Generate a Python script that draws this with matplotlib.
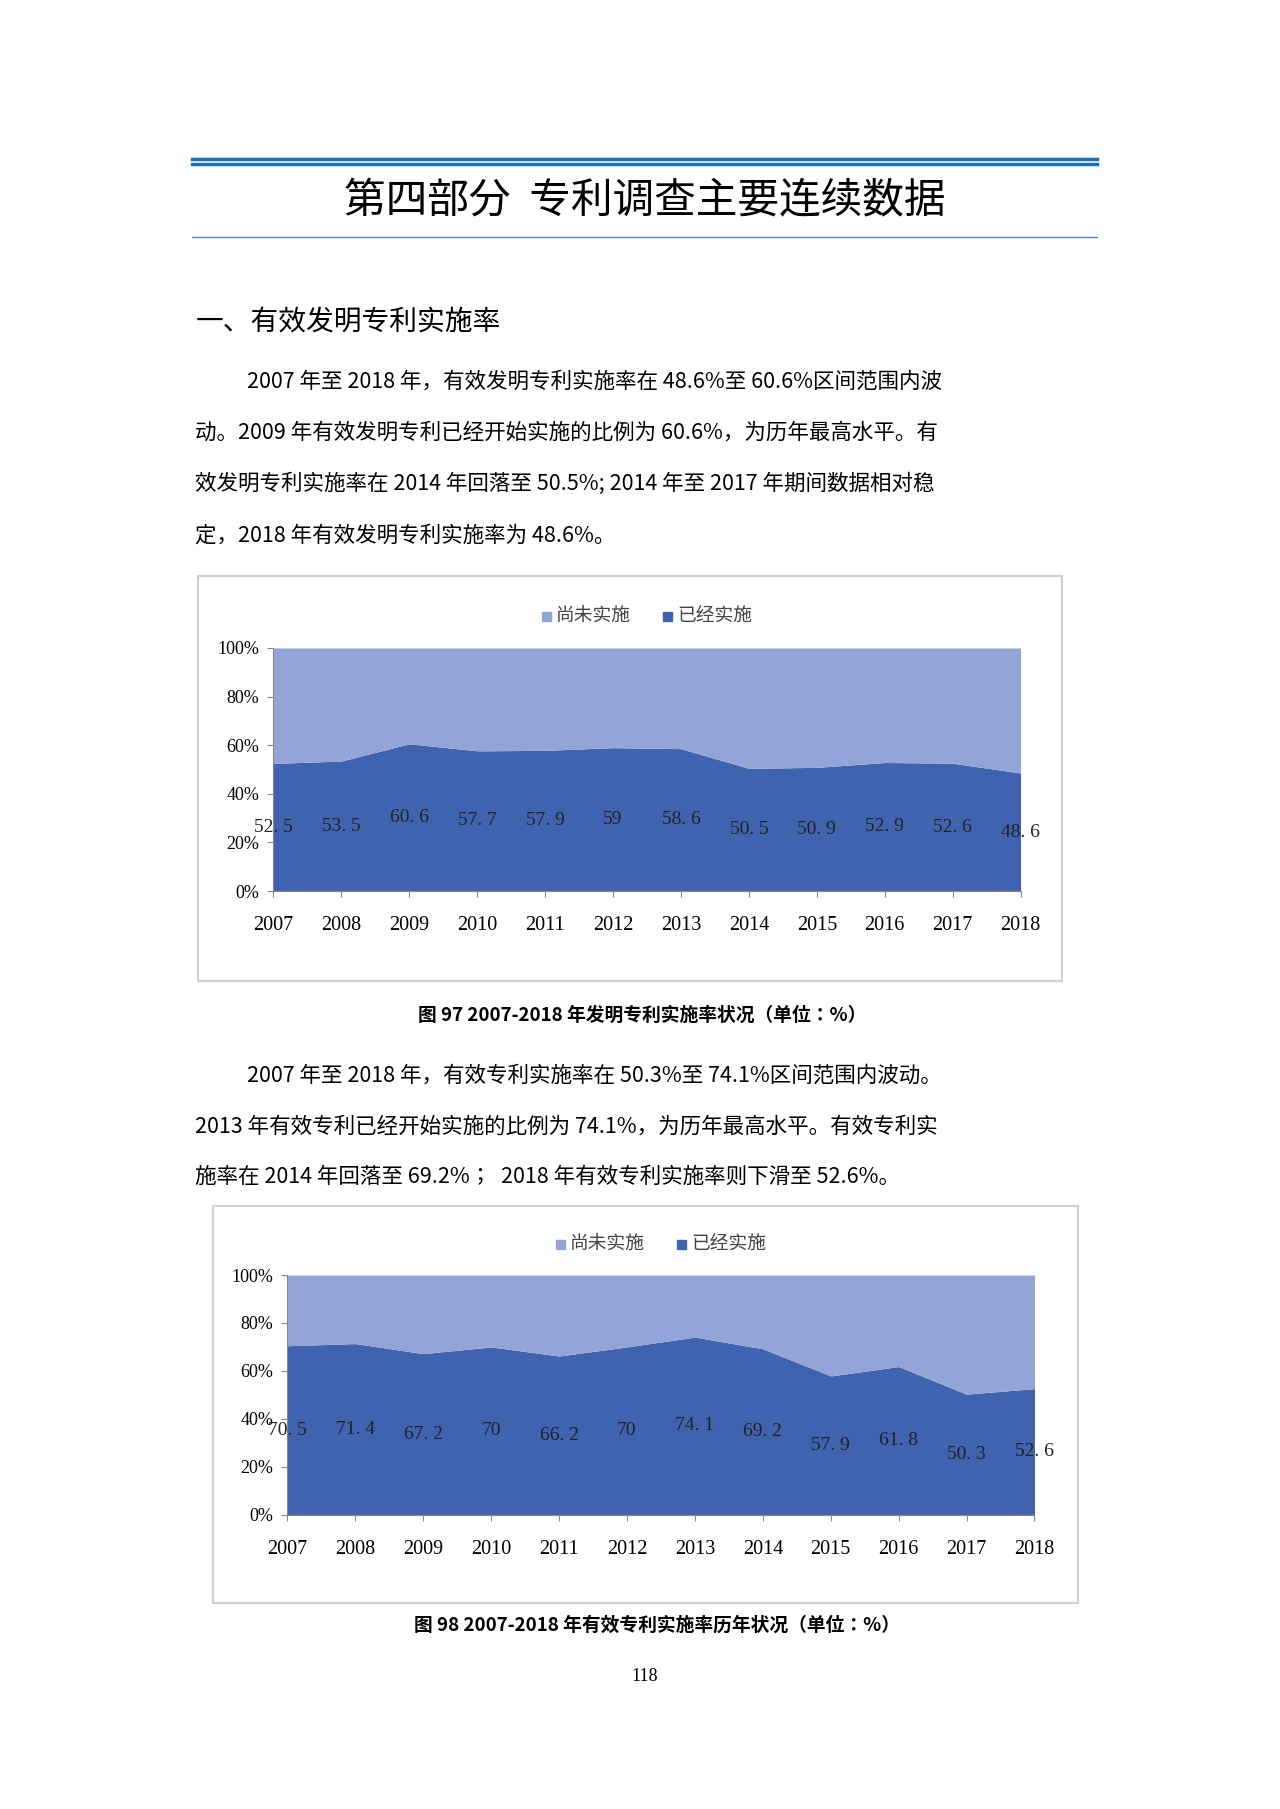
import matplotlib.pyplot as plt
from matplotlib.patches import Rectangle
from matplotlib import font_manager
import numpy as np

years = ["2007", "2008", "2009", "2010", "2011", "2012", "2013", "2014", "2015", "2016", "2017", "2018"]
invention_rate = [52.5, 53.5, 60.6, 57.7, 57.9, 59, 58.6, 50.5, 50.9, 52.9, 52.6, 48.6]
patent_rate = [70.5, 71.4, 67.2, 70, 66.2, 70, 74.1, 69.2, 57.9, 61.8, 50.3, 52.6]

# pick whichever CJK family is actually registered
available = {f.name for f in font_manager.fontManager.ttflist}
CJK = [n for n in ["Noto Sans CJK SC", "Noto Sans CJK JP", "Noto Sans CJK TC",
                   "Noto Sans CJK KR", "Noto Sans SC", "Noto Sans CJK"] if n in available]
CJK = CJK + ["DejaVu Sans"]
SERIF = "Liberation Serif"
LIGHT = "#92A5D6"
DARK = "#3F63AE"

W, H = 1100.0, 1555.0   # coordinates
fig = plt.figure(figsize=(12.8, 18.09), dpi=100)


def fx(x):
    return x / W


def fy(y):
    return 1 - y / H


def text(x, y, s, size, **kw):
    kw.setdefault("family", CJK)
    kw.setdefault("va", "center")
    fig.text(fx(x), fy(y), s, fontsize=size, **kw)


def hline(x0, x1, y, lw, color):
    fig.add_artist(plt.Line2D([fx(x0), fx(x1)], [fy(y), fy(y)], lw=lw, color=color))


# header
hline(165, 943, 137, 2.5, "#1F6EB5")
hline(165, 943, 141, 2.5, "#1F6EB5")
text(554, 173, "第四部分  专利调查主要连续数据", 30, ha="center")
hline(165, 943, 204, 0.9, "#4A7FBF")
text(168, 277, "一、有效发明专利实施率", 20, ha="left")

para1 = [
    "2007 年至 2018 年，有效发明专利实施率在 48.6%至 60.6%区间范围内波",
    "动。2009 年有效发明专利已经开始实施的比例为 60.6%，为历年最高水平。有",
    "效发明专利实施率在 2014 年回落至 50.5%; 2014 年至 2017 年期间数据相对稳",
    "定，2018 年有效发明专利实施率为 48.6%。",
]
for i, line in enumerate(para1):
    text(212 if i == 0 else 168, 328 + 44 * i, line, 15.5, ha="left")

para2 = [
    "2007 年至 2018 年，有效专利实施率在 50.3%至 74.1%区间范围内波动。",
    "2013 年有效专利已经开始实施的比例为 74.1%，为历年最高水平。有效专利实",
    "施率在 2014 年回落至 69.2%；  2018 年有效专利实施率则下滑至 52.6%。",
]
for i, line in enumerate(para2):
    text(212 if i == 0 else 168, 925 + 43.5 * i, line, 15.5, ha="left")


def chart(box, plot, legend_y, values, caption, cap_y):
    bx0, by0, bx1, by1 = box
    fig.add_artist(Rectangle((fx(bx0), fy(by1)), fx(bx1 - bx0), (by1 - by0) / H,
                             fill=False, ec="#D0D0D0", lw=1.5))
    px0, py0, px1, py1 = plot
    ax = fig.add_axes([fx(px0), fy(py1), fx(px1 - px0), (py1 - py0) / H])
    x = np.arange(len(years))
    v = np.array(values)
    ax.fill_between(x, 0, v, color=DARK, lw=0)
    ax.fill_between(x, v, 100, color=LIGHT, lw=0)
    for xi, val in zip(x, values):
        ax.text(xi, val / 2, f"{val:g}".replace(".", ". "), ha="center", va="center",
                fontsize=14, family=SERIF, color="#222222")
    ax.set_xlim(0, len(years) - 1)
    ax.set_ylim(0, 100)
    ax.set_xticks(x)
    ax.set_xticklabels(years, family=SERIF, fontsize=14.5)
    ax.set_yticks(range(0, 101, 20))
    ax.set_yticklabels([f"{t}%" for t in range(0, 101, 20)], family=SERIF, fontsize=13)
    for s in ["top", "right"]:
        ax.spines[s].set_visible(False)
    ax.spines["left"].set_color("#888888")
    ax.spines["bottom"].set_color("#888888")
    ax.tick_params(axis="x", length=4, color="#888888", pad=14)
    ax.tick_params(axis="y", length=4, color="#888888", pad=6)
    cx = (px0 + px1) / 2
    fig.add_artist(Rectangle((fx(cx - 90), fy(legend_y) - 0.003), 0.007, 0.005,
                             color=LIGHT, transform=fig.transFigure))
    text(cx - 78, legend_y, "尚未实施", 13.5, ha="left", color="#444444")
    fig.add_artist(Rectangle((fx(cx + 14), fy(legend_y) - 0.003), 0.007, 0.005,
                             color=DARK, transform=fig.transFigure))
    text(cx + 26, legend_y, "已经实施", 13.5, ha="left", color="#444444")
    text((bx0 + bx1) / 2 + 10, cap_y, caption, 13.5, ha="center", weight="bold")


chart((170, 495, 913, 843), (235, 557, 877, 766), 529, invention_rate,
      "图 97 2007-2018 年发明专利实施率状况（单位：%）", 873)
chart((183, 1037, 926, 1378), (247, 1096, 889, 1302), 1069, patent_rate,
      "图 98 2007-2018 年有效专利实施率历年状况（单位：%）", 1397)

text(554, 1441, "118", 13, ha="center", family=SERIF)

fig.savefig("out.png", dpi=100)
